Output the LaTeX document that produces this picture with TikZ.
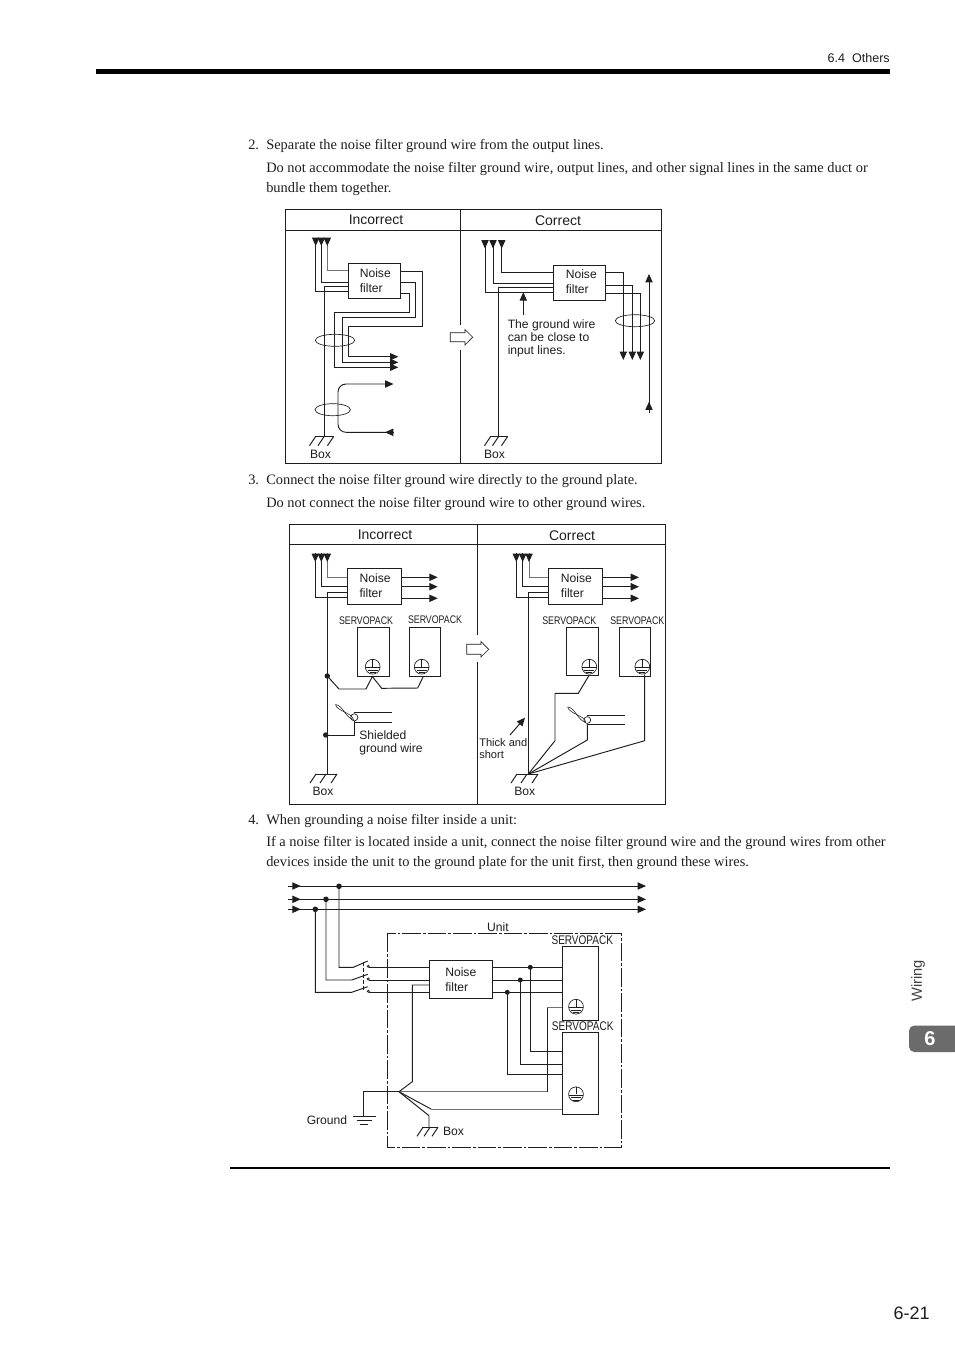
\documentclass[tikz,border=0pt]{standalone}
\usepackage{fontspec}
\setmainfont{Liberation Serif}
\setsansfont{Liberation Sans}
\newfontfamily\narrowsans[FakeStretch=0.8]{Liberation Sans}
\usetikzlibrary{arrows.meta}
\definecolor{ink}{HTML}{1E1E1E}
\newcommand{\hatchat}[3]{% centre x, y, half width
  \draw[wire] (#1-#3,#2) -- (#1+#3,#2);
  \draw[wire] (#1+#3,#2) -- ++(-6,9) (#1,#2) -- ++(-6,9) (#1-#3+1,#2) -- ++(-6,9);
}
\newcommand{\downhead}[2]{\draw[ar] (#1,#2-8.5) -- (#1,#2);}
\tikzset{
  x=0.75pt,y=-0.75pt,
  wire/.style={line width=0.72pt,draw=ink},
  gwire/.style={line width=0.72pt,draw=black!55},
  thin wire/.style={line width=0.5pt,draw=ink},
  ar/.style={wire,-{Triangle[length=6.2pt,width=5.4pt]}},
  bx/.style n args={2}{draw=ink,line width=0.72pt,minimum width=#1*0.75pt,minimum height=#2*0.75pt,inner sep=0pt},
  lab/.style={font=\sffamily\fontsize{9.1pt}{11pt}\selectfont,inner sep=0pt,text=ink},
  head/.style={font=\sffamily\fontsize{10.5pt}{12pt}\selectfont,inner sep=0pt,text=ink},
  body/.style={font=\rmfamily\fontsize{10.8pt}{12pt}\selectfont,inner sep=0pt,anchor=base west,text=ink},
  nf/.style={font=\sffamily\fontsize{9.1pt}{#1}\selectfont,inner sep=0pt,align=left,anchor=west,text=ink},
  spk/.style={font=\narrowsans\fontsize{8.25pt}{10pt}\selectfont,inner sep=0pt,text=ink},
  spkb/.style={font=\narrowsans\fontsize{9.4pt}{10pt}\selectfont,inner sep=0pt,text=ink},
  earth/.pic={
    \draw[thin wire] (0,0) circle[radius=7.4];
    \draw[thin wire] (0,-7.4) -- (0,0) (-7.2,1) -- (7.2,1) (-5,3.5) -- (5,3.5) (-3,6) -- (3,6);
  },
  twist/.pic={
    \draw[line width=0.4pt,draw=ink] (0,0) .. controls (7.5,0.75) and (10.5,14.25) .. (18,15);
    \draw[line width=0.4pt,draw=ink] (0,0) .. controls (1.5,6.75) and (16.5,8.25) .. (18,15);
  },
}
\begin{document}
\begin{tikzpicture}
\useasboundingbox (0,0) rectangle (954,1350);
\fill[white] (0,0) rectangle (954,1350);

% page furniture
\node[font=\sffamily\fontsize{9.4pt}{11pt}\selectfont,inner sep=0pt,anchor=base east,text=ink] (runhead) at (890,62.5) {6.4\ \ Others};
\fill[black] (95.5,69) rectangle (890,74);
\fill[black] (230,1167) rectangle (890,1169);
\node[font=\sffamily\fontsize{13.5pt}{17pt}\selectfont,inner sep=0pt,anchor=base east,text=ink] (pageno) at (930,1319) {6-21};
\node[font=\sffamily\fontsize{11pt}{12pt}\selectfont,inner sep=0pt,rotate=90,text=ink!85] (wiring) at (918,981) {Wiring};
\fill[black!58,rounded corners=4pt] (960,1025.5) -- (909,1025.5) -- (909,1052) -- (960,1052) -- cycle;
\node[font=\sffamily\bfseries\fontsize{15pt}{17pt}\selectfont,inner sep=0pt,text=white] (tabsix) at (930,1039) {6};

% body text
\node[body] (t2n) at (248,149.5) {2.};
\node[body] (t2a) at (266,149.5) {Separate the noise filter ground wire from the output lines.};
\node[body] (t2b) at (266,172) {Do not accommodate the noise filter ground wire, output lines, and other signal lines in the same duct or};
\node[body] (t2c) at (266,192) {bundle them together.};
\node[body] (t3n) at (248,484) {3.};
\node[body] (t3a) at (266,484) {Connect the noise filter ground wire directly to the ground plate.};
\node[body] (t3b) at (266,507) {Do not connect the noise filter ground wire to other ground wires.};
\node[body] (t4n) at (248,824) {4.};
\node[body] (t4a) at (266,824) {When grounding a noise filter inside a unit:};
\node[body] (t4b) at (266,846.5) {If a noise filter is located inside a unit, connect the noise filter ground wire and the ground wires from other};
\node[body] (t4c) at (266,866.5) {devices inside the unit to the ground plate for the unit first, then ground these wires.};

% ===== Panel 1 =====
\draw[wire] (285.5,209.5) rectangle (661.5,463.5);
\draw[wire] (285.5,230) -- (661.5,230);
\draw[wire] (460.7,209.5) -- (460.7,324.5) (460.7,350) -- (460.7,463.5);
\draw[thin wire] (465,332.7) -- (450.3,332.7) -- (450.3,341.7) -- (465,341.7) -- (465,345) -- (472.7,337.2) -- (465,329.5) -- cycle;
\node[head] (h1) at (376,219.5) {Incorrect};
\node[head] (h2) at (558,220.5) {Correct};

\node[bx={52.4}{35}] (f1) at (374.5,280.8) {};
\node[nf=10.8pt] (ft1) at (359.5,280.5) {Noise\\filter};
\draw[wire] (f1.west|-0,291.7) -- (315.7,291.7) -- (315.7,238);
\draw[wire] (f1.west|-0,282.3) -- (321.3,282.3) -- (321.3,238);
\draw[gwire] (f1.west|-0,270.7) -- (327.3,270.7) -- (327.3,238);
\downhead{315.7}{246}
\downhead{321.3}{246}
\downhead{327.3}{246}
\coordinate (g1) at (324.3,436.7);
\draw[wire] (f1.west|-0,286) -- (324.3,286) -- (g1);
\hatchat{324}{436.7}{9.5}
\node[lab] (b1) at (320.5,454) {Box};
\draw[ar] (f1.east|-0,271) -- (422.3,271) -- (422.3,326) -- (348.3,326) -- (348.3,356.7) -- (398.3,356.7);
\draw[ar] (f1.east|-0,282.3) -- (415.3,282.3) -- (415.3,317) -- (342.3,317) -- (342.3,362.3) -- (398.3,362.3);
\draw[ar] (f1.east|-0,293.3) -- (409,293.3) -- (409,312.3) -- (334.3,312.3) -- (334.3,367.3) -- (398.3,367.3);
\draw[thin wire] (335,340.3) ellipse[x radius=19.7,y radius=6];
\draw[ar,rounded corners=6pt] (393.5,432.3) -- (338,432.3) -- (338,384) -- (393.5,384);
\draw[ar] (393.5,432.3) -- (385,432.3);
\draw[thin wire] (332.7,409.7) ellipse[x radius=17.7,y radius=6];

\node[bx={52.4}{34.3}] (f2) at (579.5,282.85) {};
\node[nf=11.25pt] (ft2) at (565.5,282) {Noise\\filter};
\draw[wire] (f2.west|-0,292.7) -- (485,292.7) -- (485,240);
\draw[wire] (f2.west|-0,283.7) -- (493,283.7) -- (493,240);
\draw[wire] (f2.west|-0,272.3) -- (501.7,272.3) -- (501.7,240);
\downhead{485}{248.5}
\downhead{493}{248.5}
\downhead{501.7}{248.5}
\draw[wire] (f2.west|-0,287.5) -- (498.7,287.5) -- (498.7,436.7);
\hatchat{498.5}{436.7}{9}
\node[lab] (b2) at (494.5,454) {Box};
\draw[ar] (f2.east|-0,272.7) -- (623.3,272.7) -- (623.3,360);
\draw[ar] (f2.east|-0,285.3) -- (632.3,285.3) -- (632.3,360);
\draw[ar] (f2.east|-0,293.3) -- (640.3,293.3) -- (640.3,360);
\draw[thin wire] (635,320.7) ellipse[x radius=19.7,y radius=6];
\draw[ar] (649,413.3) -- (649,274);
\draw[ar] (649,413.3) -- (649,401.7);
\coordinate (n1) at (523.3,315);
\draw[ar] (n1) -- (523.3,292.3);
\node[font=\sffamily\fontsize{9.1pt}{9.75pt}\selectfont,inner sep=0pt,align=left,anchor=north west,text=ink] (note1) at (507.5,319) {The ground wire\\can be close to\\input lines.};

% ===== Panel 2 =====
\draw[wire] (289.5,524.5) rectangle (665.5,804.5);
\draw[wire] (289.5,544.5) -- (665.5,544.5);
\draw[wire] (477.5,524.5) -- (477.5,635) (477.5,661.7) -- (477.5,804.5);
\draw[thin wire] (481,644.3) -- (466.7,644.3) -- (466.7,654.3) -- (481,654.3) -- (481,657) -- (488.7,649.3) -- (481,641.5) -- cycle;
\node[head] (h3) at (385,534.5) {Incorrect};
\node[head] (h4) at (572,535.5) {Correct};

\node[bx={54.4}{36}] (f3) at (374.5,586.3) {};
\node[nf=11.25pt] (ft3) at (359.3,586) {Noise\\filter};
\draw[wire] (f3.west|-0,597.7) -- (315.3,597.7) -- (315.3,552.5);
\draw[wire] (f3.west|-0,586.3) -- (321.3,586.3) -- (321.3,552.5);
\draw[gwire] (f3.west|-0,577.3) -- (327.3,577.3) -- (327.3,552.5);
\downhead{315.3}{562}
\downhead{321.3}{562}
\downhead{327.3}{562}
\draw[ar] (f3.east|-0,577.3) -- (437.7,577.3);
\draw[ar] (f3.east|-0,586.7) -- (437.7,586.7);
\draw[ar] (f3.east|-0,598.3) -- (437.7,598.3);
\draw[wire] (f3.west|-0,592.3) -- (327.3,592.3) -- (327.3,774);
\hatchat{326}{774}{11}
\node[lab] (b3) at (323,791.5) {Box};
\node[bx={32}{48.7}] (s1) at (373.3,651.65) {};
\node[bx={31}{48.7}] (s2) at (424.8,651.65) {};
\node[spk] (sl1) at (366,620.5) {SERVOPACK};
\node[spk] (sl2) at (435,619.5) {SERVOPACK};
\pic at (372.7,666.7) {earth};
\pic at (421.7,666.7) {earth};
\fill[ink] (327.3,676) circle[radius=2.7];
\draw[wire] (327.3,676) -- (339,689) -- (366,689) -- (372.3,676.5) -- (381.7,688.3) -- (417.7,688) -- (423.3,676.5);
\fill[ink] (325.7,735) circle[radius=2.7];
\draw[wire] (325.7,735) -- (354,735) -- (354,721);
\draw[thin wire] (354.3,717.3) circle[radius=3.6];
\draw[wire] (354.3,712.7) -- (392.3,712.7) (354.3,722) -- (392.3,722);
\pic at (335.5,704.5) {twist};
\node[font=\sffamily\fontsize{9.1pt}{9.75pt}\selectfont,inner sep=0pt,align=left,anchor=west,text=ink] (sg1) at (359,743) {Shielded\\ground wire};

\node[bx={54}{36}] (f4) at (575.3,586.3) {};
\node[nf=11.25pt] (ft4) at (560.7,586) {Noise\\filter};
\draw[wire] (f4.west|-0,597.7) -- (516.3,597.7) -- (516.3,552.5);
\draw[wire] (f4.west|-0,586.7) -- (522.7,586.7) -- (522.7,552.5);
\draw[gwire] (f4.west|-0,577.3) -- (529,577.3) -- (529,552.5);
\downhead{516.3}{562}
\downhead{522.7}{562}
\downhead{529}{562}
\draw[ar] (f4.east|-0,577.3) -- (639,577.3);
\draw[ar] (f4.east|-0,586.7) -- (639,586.7);
\draw[ar] (f4.east|-0,598.3) -- (639,598.3);
\coordinate (g4) at (528.3,774);
\draw[wire] (f4.west|-0,592.3) -- (528.3,592.3) -- (g4);
\hatchat{527}{774}{11}
\node[lab] (b4) at (524.7,791.7) {Box};
\node[bx={31.6}{48.4}] (s3) at (582.5,651.5) {};
\node[bx={31.4}{48.7}] (s4) at (635,651.65) {};
\node[spk] (sl3) at (569.3,620.5) {SERVOPACK};
\node[spk] (sl4) at (637.3,620.5) {SERVOPACK};
\pic at (589.3,666.7) {earth};
\pic at (642.3,666.7) {earth};
\draw[wire] (589.3,675) -- (578.3,693.3) -- (555,693.3) -- (555,740.7) -- (g4);
\draw[wire] (587.3,724) -- (587.3,740) -- (g4);
\draw[wire] (644.7,674.5) -- (644.7,740.7) -- (g4);
\draw[thin wire] (587.3,720) circle[radius=3.4];
\draw[wire] (587.3,715.3) -- (625,715.3) (587.3,724.3) -- (625,724.3);
\pic at (567.7,707) {twist};
\coordinate (n2) at (510,735);
\draw[ar] (n2) -- (525,717.7);
\node[font=\sffamily\fontsize{8.3pt}{8.8pt}\selectfont,inner sep=0pt,align=left,anchor=west,text=ink] (note2) at (479,748.3) {Thick and\\short};

% ===== Panel 3 =====
\draw[ar] (288.3,886) -- (300.7,886);
\draw[ar] (288.3,899.3) -- (300.7,899.3);
\draw[ar] (288.3,909.3) -- (300.7,909.3);
\draw[ar] (288.3,886) -- (646,886);
\draw[ar] (288.3,899.3) -- (646,899.3);
\draw[ar] (288.3,909.3) -- (646,909.3);
\fill[ink] (339,886.3) circle[radius=2.8];
\fill[ink] (326,899.3) circle[radius=2.8];
\fill[ink] (315.3,909.3) circle[radius=2.8];
\node[bx={63}{38}] (f5) at (460.8,979.3) {};
\node[nf=11.25pt] (ft5) at (445,979.2) {Noise\\filter};
\draw[wire] (339,886.3) -- (339,967.3) -- (353.3,967.3) -- (367.7,961);
\draw[wire] (326,899.3) -- (326,980) -- (351.7,980) -- (367.7,974.3);
\draw[wire] (315.3,909.3) -- (315.3,992.3) -- (351.7,992.3) -- (367.7,986.7);
\draw[thin wire,dashed,dash pattern=on 3pt off 1.5pt] (363.3,962.3) -- (363.3,990);
\foreach \yy in {967.3,980,992.3}{
  \draw[thin wire] (368.3,\yy-1) circle[radius=1.1];
  \draw[wire] (369.4,\yy) -- (f5.west|-0,\yy);
  \draw[wire] (f5.east|-0,\yy) -- (562.3,\yy);
}
\node[bx={36}{74}] (s5) at (580.3,983.3) {};
\node[bx={36}{82}] (s6) at (580.3,1073.3) {};
\node[spkb] (sl5) at (582.3,940) {SERVOPACK};
\node[spkb] (sl6) at (582.7,1025.7) {SERVOPACK};
\pic at (576,1006.7) {earth};
\pic at (576,1094.3) {earth};
\fill[ink] (530.3,967.3) circle[radius=2.5];
\fill[ink] (520.3,980) circle[radius=2.5];
\fill[ink] (507.3,992.3) circle[radius=2.5];
\draw[wire] (530.3,967.3) -- (530.3,1051) -- (s6.west|-0,1051);
\draw[wire] (520.3,980) -- (520.3,1064.3) -- (s6.west|-0,1064.3);
\draw[wire] (507.3,992.3) -- (507.3,1074.3) -- (s6.west|-0,1074.3);
\coordinate (j) at (399,1091.7);
\draw[wire] (f5.west|-0,985) -- (412.3,985) -- (412.3,1081.7) -- (j);
\draw[gwire] (j) -- (547.3,1091.7);
\draw[wire] (547.3,1091.7) -- (547.3,1007);
\draw[gwire] (547.3,1007) -- (s5.west|-0,1007);
\draw[wire] (j) -- (431,1109);
\draw[gwire] (431,1109) -- (s6.west|-0,1109);
\draw[wire] (j) -- (429,1115.7) -- (429,1127.3);
\hatchat{430}{1127.3}{8}
\node[lab] (b5) at (453.5,1131.7) {Box};
\draw[wire] (j) -- (363.3,1091.7) -- (363.3,1116);
\draw[wire] (353.3,1116) -- (376,1116);
\draw[thin wire] (356.7,1120) -- (372.3,1120) (360,1124) -- (368.3,1124);
\node[lab] (gr) at (327,1120) {Ground};
\draw[line width=0.75pt,draw=ink,dash pattern=on 14pt off 1.5pt on 2pt off 1.5pt] (387.3,933.7) rectangle (621.3,1147.2);
\node[lab] (unit) at (498,927) {Unit};
\end{tikzpicture}
\end{document}
